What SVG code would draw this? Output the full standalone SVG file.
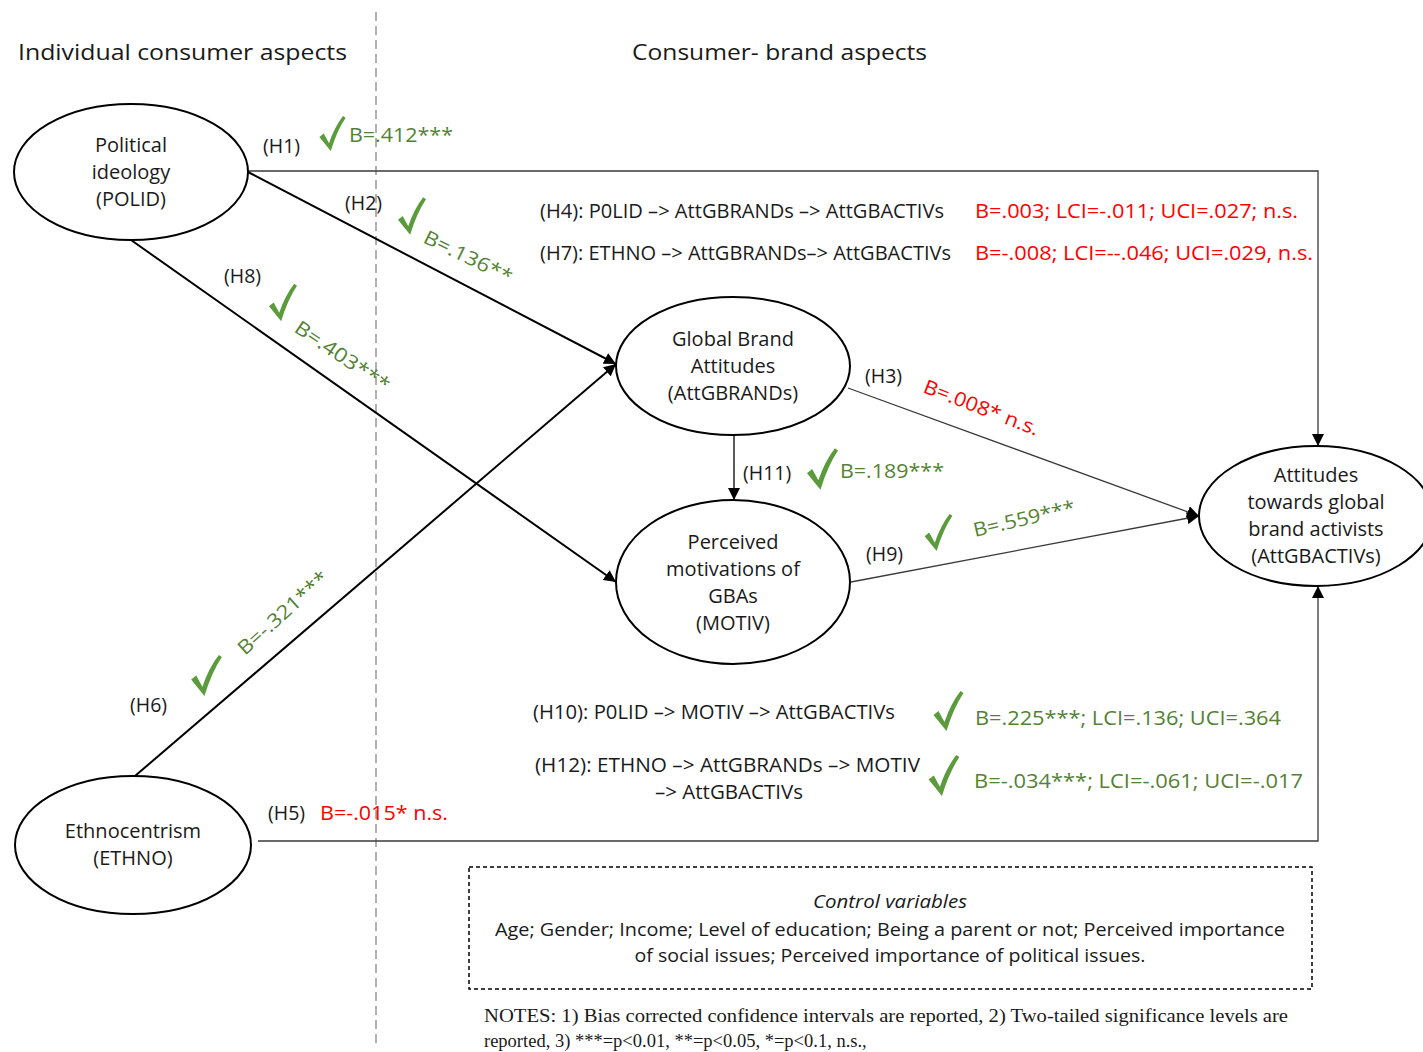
<svg xmlns="http://www.w3.org/2000/svg" xmlns:xlink="http://www.w3.org/1999/xlink" width="1423" height="1052" viewBox="0 0 1423 1052">
<style>
text{font-family:"Open Sans","Liberation Sans",sans-serif;font-size:19.5px;fill:#1a1a1a}
.h{font-size:22px}
.n{text-anchor:middle;font-size:20px}
.g{fill:#548235}
.r{fill:#ff0000}
.c{text-anchor:middle;font-size:19px}
.notes{font-family:"Liberation Serif","Times New Roman",serif;font-size:18.5px}
.node{fill:#fff;stroke:#000;stroke-width:2}
.thick{stroke:#000;stroke-width:2;fill:none}
.thin{stroke:#3a3a3a;stroke-width:1.3;fill:none}
</style>
<defs>
<marker id="arr" viewBox="0 0 10 10" refX="10" refY="5" markerWidth="12" markerHeight="12" markerUnits="userSpaceOnUse" orient="auto">
<path d="M0,0 L10,5 L0,10 Z" fill="#000"/>
</marker>
<symbol id="chk" viewBox="0 0 30 40">
<path d="M0,24 L5,20 L11,31 Q17,13 27,0 L30,2 Q20,17 13,40 Z" fill="#5b9b3b"/>
</symbol>
</defs>
<rect width="1423" height="1052" fill="#fff"/>
<line x1="376" y1="12" x2="376" y2="1045" stroke="#b0b0b0" stroke-width="2" stroke-dasharray="9,5"/>
<text class="h" x="18" y="60" textLength="329" lengthAdjust="spacingAndGlyphs">Individual consumer aspects</text>
<text class="h" x="632" y="60" textLength="295" lengthAdjust="spacingAndGlyphs">Consumer- brand aspects</text>

<g id="connectors">
<polyline class="thin" points="248,171 1318,171 1318,446" marker-end="url(#arr)"/>
<line class="thick" x1="248" y1="172" x2="616" y2="364" marker-end="url(#arr)"/>
<line class="thick" x1="131" y1="240" x2="616" y2="582" marker-end="url(#arr)"/>
<line class="thick" x1="135" y1="776" x2="616" y2="364" marker-end="url(#arr)"/>
<line class="thin" x1="848" y1="388" x2="1199" y2="516" marker-end="url(#arr)"/>
<line x1="734" y1="435" x2="734" y2="500" stroke="#000" stroke-width="1.3" marker-end="url(#arr)"/>
<line class="thin" x1="851" y1="582" x2="1199" y2="516" marker-end="url(#arr)"/>
<polyline class="thin" points="258,841 1318,841 1318,586" marker-end="url(#arr)"/>
</g>

<g id="POLID">
<ellipse class="node" cx="131" cy="172" rx="117" ry="68"/>
<text class="n" x="131" y="152">Political</text>
<text class="n" x="131" y="179">ideology</text>
<text class="n" x="131" y="206">(POLID)</text>
</g>
<g id="ETHNO">
<ellipse class="node" cx="133" cy="845" rx="118" ry="69"/>
<text class="n" x="133" y="838">Ethnocentrism</text>
<text class="n" x="133" y="865">(ETHNO)</text>
</g>
<g id="AttGBRANDs">
<ellipse class="node" cx="733" cy="366" rx="117" ry="69"/>
<text class="n" x="733" y="346">Global Brand</text>
<text class="n" x="733" y="373">Attitudes</text>
<text class="n" x="733" y="400">(AttGBRANDs)</text>
</g>
<g id="MOTIV">
<ellipse class="node" cx="733" cy="582" rx="117" ry="82"/>
<text class="n" x="733" y="549">Perceived</text>
<text class="n" x="733" y="576">motivations of</text>
<text class="n" x="733" y="603">GBAs</text>
<text class="n" x="733" y="630">(MOTIV)</text>
</g>
<g id="AttGBACTIVs">
<ellipse class="node" cx="1316" cy="516" rx="117" ry="70"/>
<text class="n" x="1316" y="482">Attitudes</text>
<text class="n" x="1316" y="509">towards global</text>
<text class="n" x="1316" y="536">brand activists</text>
<text class="n" x="1316" y="563">(AttGBACTIVs)</text>
</g>

<g id="labels">
<text x="263" y="153">(H1)</text>
<use href="#chk" x="319" y="116" width="27" height="35"/>
<text class="g" x="349" y="142" textLength="104" lengthAdjust="spacingAndGlyphs">B=.412***</text>

<text x="345" y="210">(H2)</text>
<use href="#chk" x="398" y="197" width="28" height="38"/>
<text class="g" transform="translate(422,242) rotate(26)" textLength="96" lengthAdjust="spacingAndGlyphs">B=.136**</text>

<text x="224" y="283">(H8)</text>
<use href="#chk" x="269" y="283" width="28" height="39"/>
<text class="g" transform="translate(293,331) rotate(34)" textLength="110" lengthAdjust="spacingAndGlyphs">B=.403***</text>

<text x="130" y="712">(H6)</text>
<use href="#chk" x="191" y="655" width="31" height="41"/>
<text class="g" transform="translate(245,656) rotate(-42)" textLength="114" lengthAdjust="spacingAndGlyphs">B=-.321***</text>

<text x="540" y="218" textLength="404" lengthAdjust="spacingAndGlyphs">(H4): P0LID –&gt; AttGBRANDs –&gt; AttGBACTIVs</text>
<text class="r" x="975" y="218" textLength="323" lengthAdjust="spacingAndGlyphs">B=.003; LCI=-.011; UCI=.027; n.s.</text>
<text x="540" y="260" textLength="411" lengthAdjust="spacingAndGlyphs">(H7): ETHNO –&gt; AttGBRANDs–&gt; AttGBACTIVs</text>
<text class="r" x="975" y="260" textLength="338" lengthAdjust="spacingAndGlyphs">B=-.008; LCI=--.046; UCI=.029, n.s.</text>

<text x="865" y="383">(H3)</text>
<text class="r" transform="translate(922,392) rotate(21)" textLength="122" lengthAdjust="spacingAndGlyphs">B=.008* n.s.</text>

<text x="743" y="480">(H11)</text>
<use href="#chk" x="807" y="448" width="31" height="42"/>
<text class="g" x="840" y="478" textLength="104" lengthAdjust="spacingAndGlyphs">B=.189***</text>

<text x="866" y="561">(H9)</text>
<use href="#chk" x="924" y="514" width="29" height="37"/>
<text class="g" transform="translate(975,537) rotate(-13)" textLength="104" lengthAdjust="spacingAndGlyphs">B=.559***</text>

<text x="533" y="719" textLength="362" lengthAdjust="spacingAndGlyphs">(H10): P0LID –&gt; MOTIV –&gt; AttGBACTIVs</text>
<use href="#chk" x="933" y="691" width="31" height="40"/>
<text class="g" x="975" y="725" textLength="306" lengthAdjust="spacingAndGlyphs">B=.225***; LCI=.136; UCI=.364</text>

<text x="535" y="772" textLength="385" lengthAdjust="spacingAndGlyphs">(H12): ETHNO  –&gt; AttGBRANDs  –&gt; MOTIV</text>
<text x="655" y="799" textLength="148" lengthAdjust="spacingAndGlyphs">–&gt; AttGBACTIVs</text>
<use href="#chk" x="928" y="755" width="32" height="41"/>
<text class="g" x="974" y="788" textLength="329" lengthAdjust="spacingAndGlyphs">B=-.034***; LCI=-.061; UCI=-.017</text>

<text x="268" y="820">(H5)</text>
<text class="r" x="320" y="820" textLength="128" lengthAdjust="spacingAndGlyphs">B=-.015* n.s.</text>
</g>

<g id="controls">
<rect x="469" y="867" width="843" height="122" fill="none" stroke="#000" stroke-width="1.5" stroke-dasharray="4,3"/>
<text class="c" x="890" y="908" font-style="italic" textLength="154" lengthAdjust="spacingAndGlyphs">Control variables</text>
<text class="c" x="890" y="936" textLength="790" lengthAdjust="spacingAndGlyphs">Age; Gender; Income; Level of education; Being a parent or not; Perceived importance</text>
<text class="c" x="890" y="962" textLength="511" lengthAdjust="spacingAndGlyphs">of social issues; Perceived importance of political issues.</text>
</g>
<g id="notes">
<text class="notes" x="484" y="1022" textLength="804" lengthAdjust="spacingAndGlyphs">NOTES: 1) Bias corrected confidence intervals are reported, 2) Two-tailed significance levels are</text>
<text class="notes" x="484" y="1047">reported, 3) ***=p&lt;0.01, **=p&lt;0.05, *=p&lt;0.1, n.s.,</text>
</g>
</svg>
